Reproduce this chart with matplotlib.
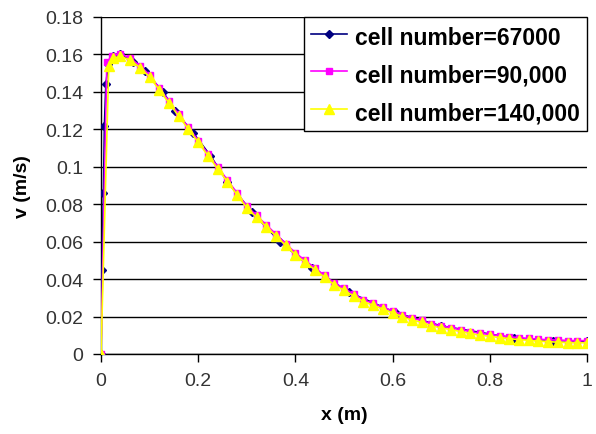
import matplotlib
matplotlib.use("Agg")
import matplotlib.pyplot as plt
from matplotlib.ticker import FuncFormatter

# cell number = 67000 (coarse near wall, markers mostly hidden below the others)
x_67000 = [0.0, 0.002, 0.005, 0.007, 0.010, 0.015, 0.025, 0.040, 0.065, 0.090,
           0.128, 0.152, 0.190, 0.225, 0.260, 0.310, 0.368, 0.434, 0.510, 0.607,
           0.700, 0.850, 0.930, 1.0]
v_67000 = [0.0, 0.045, 0.086, 0.122, 0.144, 0.155, 0.159, 0.160, 0.156, 0.151,
           0.140, 0.130, 0.118, 0.106, 0.092, 0.076, 0.060, 0.046, 0.033, 0.022,
           0.015, 0.0085, 0.0072, 0.0068]

# cell number = 90,000
x_90000 = [0.0, 0.012, 0.022, 0.04, 0.06, 0.08, 0.10, 0.12, 0.14, 0.16, 0.18,
           0.20, 0.22, 0.24, 0.26, 0.28, 0.30, 0.32, 0.34, 0.36, 0.38,
           0.40, 0.42, 0.44, 0.46, 0.48, 0.50, 0.52, 0.54, 0.56, 0.58,
           0.60, 0.62, 0.64, 0.66, 0.68, 0.70, 0.72, 0.74, 0.76, 0.78,
           0.80, 0.82, 0.84, 0.86, 0.88, 0.90, 0.92, 0.94, 0.96, 0.98, 1.0]
v_90000 = [0.0, 0.156, 0.159, 0.1605, 0.158, 0.154, 0.149, 0.142, 0.135, 0.128, 0.121,
           0.114, 0.107, 0.100, 0.093, 0.086, 0.079, 0.074, 0.069, 0.064, 0.059,
           0.054, 0.050, 0.046, 0.042, 0.038, 0.035, 0.032, 0.029, 0.027, 0.025,
           0.023, 0.021, 0.019, 0.018, 0.016, 0.015, 0.014, 0.013, 0.012, 0.011,
           0.0105, 0.0098, 0.0092, 0.0087, 0.0083, 0.0079, 0.0076, 0.0074, 0.0072, 0.0071, 0.0072]

# cell number = 140,000
x_140000 = [0.0, 0.016, 0.024, 0.04, 0.06, 0.08, 0.10, 0.12, 0.14, 0.16, 0.18,
            0.20, 0.22, 0.24, 0.26, 0.28, 0.30, 0.32, 0.34, 0.36, 0.38,
            0.40, 0.42, 0.44, 0.46, 0.48, 0.50, 0.52, 0.54, 0.56, 0.58,
            0.60, 0.62, 0.64, 0.66, 0.68, 0.70, 0.72, 0.74, 0.76, 0.78,
            0.80, 0.82, 0.84, 0.86, 0.88, 0.90, 0.92, 0.94, 0.96, 0.98, 1.0]
v_140000 = [0.0, 0.154, 0.158, 0.159, 0.157, 0.153, 0.148, 0.141, 0.134, 0.127, 0.120,
            0.113, 0.106, 0.099, 0.092, 0.085, 0.078, 0.073, 0.068, 0.063, 0.058,
            0.053, 0.049, 0.045, 0.041, 0.037, 0.034, 0.031, 0.028, 0.026, 0.024,
            0.022, 0.020, 0.018, 0.017, 0.015, 0.014, 0.013, 0.012, 0.011, 0.010,
            0.0095, 0.0088, 0.0082, 0.0077, 0.0073, 0.0069, 0.0066, 0.0063, 0.0061, 0.0060, 0.0060]

x_ticks = [0, 0.2, 0.4, 0.6, 0.8, 1.0]
y_ticks = [0, 0.02, 0.04, 0.06, 0.08, 0.1, 0.12, 0.14, 0.16, 0.18]

plt.rcParams["font.family"] = ["Liberation Sans", "DejaVu Sans"]


def excel_fmt(v, _pos):
    return f"{v:g}"


fig = plt.figure(figsize=(5.96, 4.35), dpi=100)
ax = fig.add_axes([101 / 596, 1 - 355 / 435, 486 / 596, 337 / 435])

ax.plot(x_67000, v_67000, color="#000080", lw=1.2, marker="D", ms=4.5,
        label="cell number=67000", zorder=3)
ax.plot(x_90000, v_90000, color="#FF00FF", lw=1.2, marker="s", ms=5,
        label="cell number=90,000", zorder=4)
ax.plot(x_140000, v_140000, color="#FFFF00", lw=1.2, marker="^", ms=6.5,
        label="cell number=140,000", zorder=5)

ax.set_xlim(0, 1)
ax.set_ylim(0, 0.18)
ax.set_xticks(x_ticks)
ax.set_yticks(y_ticks)
ax.xaxis.set_major_formatter(FuncFormatter(excel_fmt))
ax.yaxis.set_major_formatter(FuncFormatter(excel_fmt))
ax.tick_params(axis="both", direction="out", length=6, width=1, color="black",
               labelsize=14, labelcolor="#333333", pad=7)

ax.grid(True, axis="y", color="black", lw=1)
ax.set_axisbelow(True)
for side in ["top", "right"]:
    ax.spines[side].set_visible(False)
for side in ["left", "bottom"]:
    ax.spines[side].set_color("black")
    ax.spines[side].set_linewidth(1)

ax.set_xlabel("x (m)", fontsize=14, fontweight="bold", labelpad=12)
ax.set_ylabel("v (m/s)", fontsize=14, fontweight="bold", labelpad=10)

leg = ax.legend(loc="upper right", bbox_to_anchor=(1.0, 1.0), frameon=True,
                fancybox=False, edgecolor="black", framealpha=1,
                prop={"size": 16.5, "weight": "bold"}, handlelength=1.6,
                handleheight=1.25, handletextpad=0.35, borderpad=0.3,
                labelspacing=0.56, borderaxespad=0)
leg.get_frame().set_linewidth(1)
leg.set_zorder(10)

fig.savefig("out.png", dpi=100)
